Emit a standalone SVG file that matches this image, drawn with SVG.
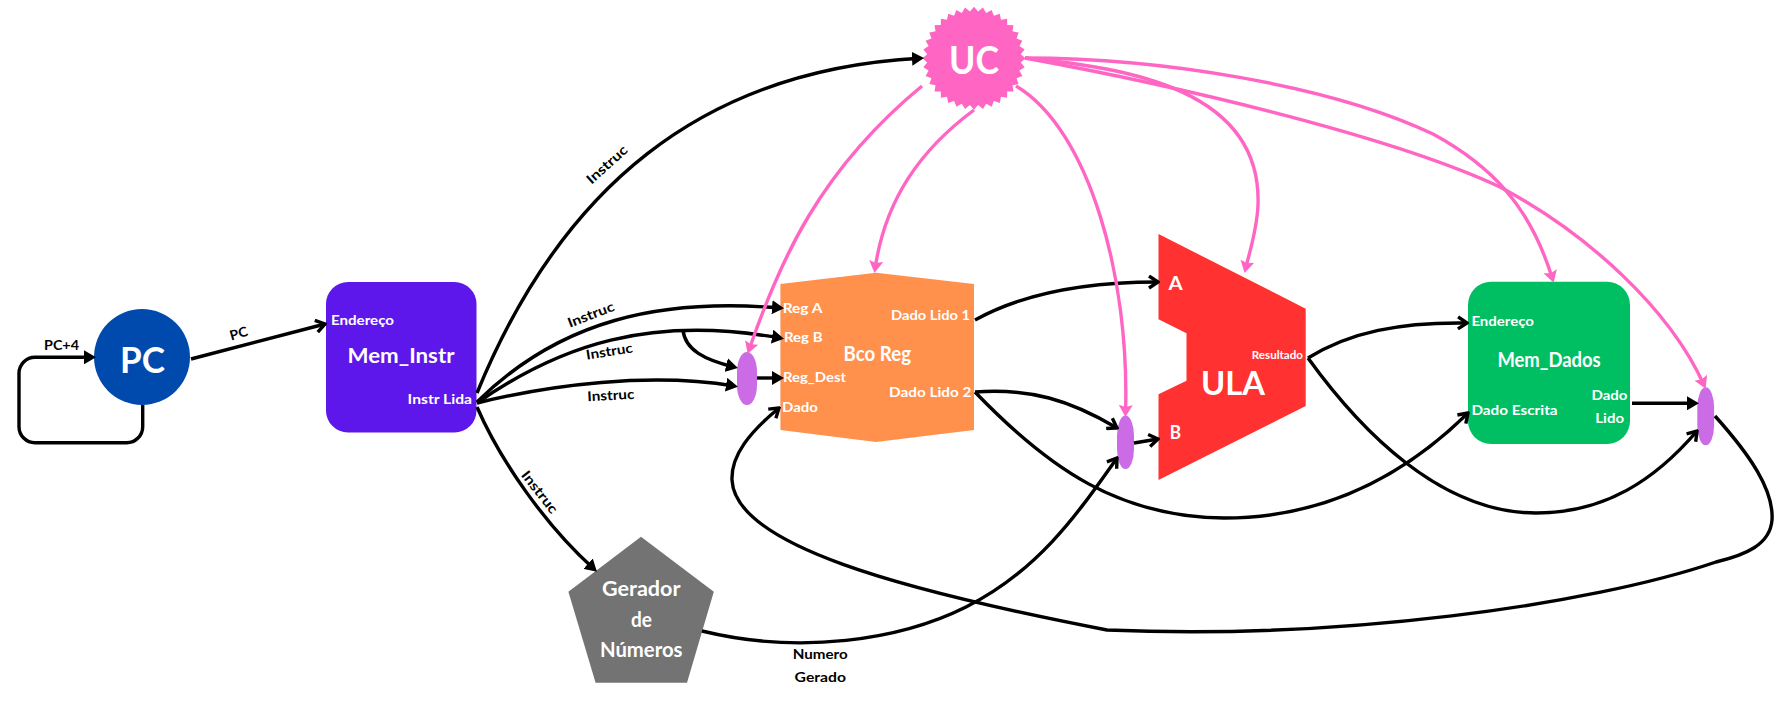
<svg xmlns="http://www.w3.org/2000/svg" width="1786" height="702" viewBox="0 0 1786 702">
<style>
text{font-family:"Lato","Liberation Sans",sans-serif;font-weight:700;fill:#fff}
.k{fill:#000;font-size:13.5px}
.s{font-size:14px}
.m{font-size:21px}
.c{fill:none;stroke:#000;stroke-width:3.400}
.p{fill:none;stroke:#ff66c4;stroke-width:3.400}
.f{marker-end:url(#fa)}
.o{marker-end:url(#oa)}
.pa{marker-end:url(#pa)}
.x{fill:#cb6ce6}
</style>
<defs>
<marker id="fa" markerUnits="userSpaceOnUse" viewBox="0 0 12 14" refX="8" refY="7" markerWidth="12" markerHeight="14" orient="auto"><path d="M0 0L12 7L0 14Z" fill="#000"/></marker>
<marker id="oa" markerUnits="userSpaceOnUse" viewBox="0 0 13 15" refX="11" refY="7.500" markerWidth="13" markerHeight="15" orient="auto"><path d="M2 1.500L11 7.500L2 13.500" fill="none" stroke="#000" stroke-width="3.400"/></marker>
<marker id="pa" markerUnits="userSpaceOnUse" viewBox="0 0 12 14" refX="8" refY="7" markerWidth="12" markerHeight="14" orient="auto"><path d="M0 0L12 7L0 14L2 7Z" fill="#ff66c4"/></marker>
</defs>
<rect width="1786" height="702" fill="#fff"/>
<g id="pc"><circle cx="142" cy="357" r="48" fill="#004aad"/><text x="120" y="373" font-size="36" textLength="45" lengthAdjust="spacingAndGlyphs">PC</text></g>
<g id="mem-instr"><rect x="326" y="282" width="150.500" height="150.500" rx="22" fill="#5e17eb"/>
<text class="s" x="331" y="325" textLength="63" lengthAdjust="spacingAndGlyphs">Endereço</text>
<text class="m" x="347.500" y="363" textLength="107" lengthAdjust="spacingAndGlyphs">Mem_Instr</text>
<text class="s" x="407.600" y="404" textLength="64.500" lengthAdjust="spacingAndGlyphs">Instr Lida</text></g>
<g id="bco-reg"><polygon points="780.400,284 876,272.700 974,284 974,430 876,442 780.400,430" fill="#ff914d"/>
<text class="s" x="782.700" y="313.300" textLength="39.800" lengthAdjust="spacingAndGlyphs">Reg A</text>
<text class="s" x="784" y="342.300" textLength="38.500" lengthAdjust="spacingAndGlyphs">Reg B</text>
<text class="s" x="783" y="382.300" textLength="63" lengthAdjust="spacingAndGlyphs">Reg_Dest</text>
<text class="s" x="782" y="412.300" textLength="36" lengthAdjust="spacingAndGlyphs">Dado</text>
<text class="s" x="891" y="320" textLength="79" lengthAdjust="spacingAndGlyphs">Dado Lido 1</text>
<text class="s" x="889" y="397" textLength="82.400" lengthAdjust="spacingAndGlyphs">Dado Lido 2</text>
<text class="m" x="843.600" y="360.700" textLength="67.400" lengthAdjust="spacingAndGlyphs">Bco Reg</text></g>
<g id="ula"><polygon points="1158.500,234 1305.700,308.700 1305.700,406 1158.500,480 1158.500,394.300 1186.500,380.700 1186.500,333.300 1158.500,319.300" fill="#ff3131"/>
<text x="1168.500" y="290" font-size="19" textLength="14.200" lengthAdjust="spacingAndGlyphs">A</text>
<text x="1169.700" y="439.300" font-size="19" textLength="11.300" lengthAdjust="spacingAndGlyphs">B</text>
<text x="1251.800" y="359" font-size="10.500" textLength="51.200" lengthAdjust="spacingAndGlyphs">Resultado</text>
<text x="1201" y="395" font-size="33" textLength="64" lengthAdjust="spacingAndGlyphs">ULA</text></g>
<g id="mem-dados"><rect x="1468" y="281.700" width="162" height="162.300" rx="23" fill="#00bf63"/>
<text class="s" x="1471.400" y="326" textLength="62.600" lengthAdjust="spacingAndGlyphs">Endereço</text>
<text class="m" x="1497.400" y="367" textLength="103.300" lengthAdjust="spacingAndGlyphs">Mem_Dados</text>
<text class="s" x="1471.400" y="415.300" textLength="86.200" lengthAdjust="spacingAndGlyphs">Dado Escrita</text>
<text class="s" x="1591.500" y="400.300" textLength="36" lengthAdjust="spacingAndGlyphs">Dado</text>
<text class="s" x="1595.300" y="423.300" textLength="28.700" lengthAdjust="spacingAndGlyphs">Lido</text></g>
<g id="gerador"><polygon points="641,536.700 713.800,591.700 687,682.700 595.600,682.700 568.400,591.700" fill="#737373"/>
<text class="m" x="602" y="595.700" textLength="78.500" lengthAdjust="spacingAndGlyphs">Gerador</text>
<text class="m" x="631" y="627" textLength="21" lengthAdjust="spacingAndGlyphs">de</text>
<text class="m" x="600" y="657" textLength="82.500" lengthAdjust="spacingAndGlyphs">Números</text></g>
<g id="uc"><polygon transform="translate(974 58.300)" fill="#ff66c4" points="51.500,0 46.800,4.100 50.700,8.900 45.400,12.200 48.400,17.600 42.600,19.900 44.600,25.800 38.500,27 39.500,33.100 33.200,33.200 33.100,39.500 27,38.500 25.800,44.600 19.900,42.600 17.600,48.400 12.200,45.400 8.900,50.700 4.100,46.800 0,51.500 -4.100,46.800 -8.900,50.700 -12.200,45.400 -17.600,48.400 -19.900,42.600 -25.800,44.600 -27,38.500 -33.100,39.500 -33.200,33.200 -39.500,33.100 -38.500,27 -44.600,25.800 -42.600,19.900 -48.400,17.600 -45.400,12.200 -50.700,8.900 -46.800,4.100 -51.500,0 -46.800,-4.100 -50.700,-8.900 -45.400,-12.200 -48.400,-17.600 -42.600,-19.900 -44.600,-25.800 -38.500,-27 -39.500,-33.100 -33.200,-33.200 -33.100,-39.500 -27,-38.500 -25.800,-44.600 -19.900,-42.600 -17.600,-48.400 -12.200,-45.400 -8.900,-50.700 -4.100,-46.800 0,-51.500 4.100,-46.800 8.900,-50.700 12.200,-45.400 17.600,-48.400 19.900,-42.600 25.800,-44.600 27,-38.500 33.100,-39.500 33.200,-33.200 39.500,-33.100 38.500,-27 44.600,-25.800 42.600,-19.900 48.400,-17.600 45.400,-12.200 50.700,-8.900 46.800,-4.100"/>
<text x="949" y="74" font-size="38" textLength="50" lengthAdjust="spacingAndGlyphs">UC</text></g>
<g id="mux-1"><rect class="x" x="737" y="352" width="20" height="53" rx="10" ry="20"/></g>
<g id="mux-2"><rect class="x" x="1117" y="415.600" width="17" height="53.400" rx="8.500" ry="20"/></g>
<g id="mux-3"><rect class="x" x="1697.300" y="387.300" width="16.800" height="58" rx="8.400" ry="20"/></g>
<g id="connectors">
<path class="c f" d="M142.700 405V426.700A16 16 0 0 1 126.700 442.700H35A16 16 0 0 1 19 426.700V373.300A16 16 0 0 1 35 357.300H92"/>
<path class="c o" d="M191 359L325 324"/>
<path class="c f" d="M477 393C560 190 700 70 920 58.300"/>
<path class="c f" d="M477 402C560 320 660 298 780 308"/>
<path class="c f" d="M477 403C560 345 650 315 780 338"/>
<path class="c f" d="M683 330C685 350 705 360 734 367"/>
<path class="c f" d="M477 403C550 385 650 372 734 386"/>
<path class="c f" d="M757 378H780"/>
<path class="c f" d="M477 407C500 460 545 525 594 569"/>
<path class="c o" d="M975 320C1020 295 1080 282 1158 282"/>
<path class="c o" d="M975 392C1030 388 1070 400 1117 428"/>
<path class="c o" d="M1134 443L1158 439"/>
<path class="c o" d="M975 392C1050 470 1120 517 1224 518C1320 518 1400 480 1468 413"/>
<path class="c o" d="M1308 358C1350 332 1400 322 1467 323"/>
<path class="c o" d="M1308 358C1360 430 1440 513 1536 513C1605 513 1655 480 1697 431"/>
<path class="c f" d="M1632 403.300H1695"/>
<path class="c o" d="M1715 416C1750 455 1774 490 1772 520C1770 545 1745 555 1716 562C1590 605 1340 640 1107 630C900 590 735 545 732 480C731 455 750 432 779 408"/>
<path class="c o" d="M702 631C800 655 900 640 966 607C1040 570 1080 510 1117 458"/>
<path class="p pa" d="M922 86C820 170 780 260 749 350"/>
<path class="p pa" d="M974 110C920 150 885 200 875 269"/>
<path class="p pa" d="M1016 86C1090 130 1130 280 1125.500 413"/>
<path class="p pa" d="M1025 58C1130 68 1262 90 1258 205C1257 230 1250 250 1245.500 269"/>
<path class="p pa" d="M1025 58C1160 58 1330 85 1433 134C1490 165 1530 205 1552.500 279"/>
<path class="p pa" d="M1025 58C1200 90 1400 140 1500 187C1590 235 1670 310 1704 385"/>
</g>
<g id="labels">
<text class="k" x="44" y="350" textLength="35" lengthAdjust="spacingAndGlyphs">PC+4</text>
<text class="k" text-anchor="middle" transform="translate(240 338) rotate(-16)" textLength="18" lengthAdjust="spacingAndGlyphs">PC</text>
<text class="k" text-anchor="middle" transform="translate(610 168) rotate(-42)" textLength="50" lengthAdjust="spacingAndGlyphs">Instruc</text>
<text class="k" text-anchor="middle" transform="translate(592.500 319) rotate(-21)" textLength="49" lengthAdjust="spacingAndGlyphs">Instruc</text>
<text class="k" text-anchor="middle" transform="translate(610 356) rotate(-9)" textLength="47" lengthAdjust="spacingAndGlyphs">Instruc</text>
<text class="k" text-anchor="middle" transform="translate(611 400) rotate(-3)" textLength="47" lengthAdjust="spacingAndGlyphs">Instruc</text>
<text class="k" text-anchor="middle" transform="translate(536 495) rotate(52)" textLength="50" lengthAdjust="spacingAndGlyphs">Instruc</text>
<text class="k" x="792.700" y="659.300" textLength="55" lengthAdjust="spacingAndGlyphs">Numero</text>
<text class="k" x="794.600" y="682.300" textLength="51.400" lengthAdjust="spacingAndGlyphs">Gerado</text>
</g>
</svg>
